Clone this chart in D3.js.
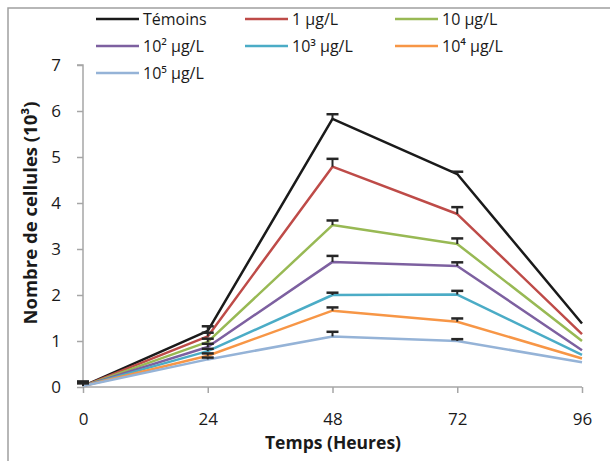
<!DOCTYPE html>
<html>
<head>
<meta charset="utf-8">
<style>
  body { margin: 0; background: #fff; }
  text { font-family: "Open Sans", "Liberation Sans", sans-serif; fill: #1a1a1a; }
</style>
</head>
<body>
<svg id="chart" width="610" height="461"></svg>
<script src="https://cdnjs.cloudflare.com/ajax/libs/d3/7.8.5/d3.min.js"></script>
<script>
// hours
var times = [0, 24, 48, 72, 96];
var yTicks = [0, 1, 2, 3, 4, 5, 6, 7];

var seriesNames = ["Témoins", "1 µg/L", "10 µg/L", "10² µg/L", "10³ µg/L", "10⁴ µg/L", "10⁵ µg/L"];
var seriesColors = ["#1a1a1a", "#be4b48", "#98b954", "#7d60a0", "#4bacc6", "#f79646", "#95b3d7"];

var temoins = [0.02, 1.22, 5.83, 4.63, 1.38];
var c1 = [0.02, 1.10, 4.79, 3.76, 1.15];
var c10 = [0.02, 0.98, 3.52, 3.11, 1.00];
var c100 = [0.02, 0.87, 2.72, 2.63, 0.80];
var c1000 = [0.02, 0.78, 2.00, 2.01, 0.70];
var c10000 = [0.02, 0.68, 1.66, 1.42, 0.62];
var c100000 = [0.02, 0.60, 1.10, 1.00, 0.54];

var errTemoins = [0.10, 0.10, 0.10, 0.05, 0];
var err1 = [0.09, 0.08, 0.17, 0.15, 0];
var err10 = [0.08, 0.07, 0.10, 0.12, 0];
var err100 = [0.08, 0.07, 0.13, 0.08, 0];
var err1000 = [0.07, 0.05, 0.05, 0.08, 0];
var err10000 = [0.07, 0.05, 0.07, 0.07, 0];
var err100000 = [0.06, 0.04, 0.10, 0.04, 0];

var values = [temoins, c1, c10, c100, c1000, c10000, c100000];
var errors = [errTemoins, err1, err10, err100, err1000, err10000, err100000];

var svg = d3.select("#chart");
var x = d3.scaleLinear().domain([0, 96]).range([83, 582]);
var y = d3.scaleLinear().domain([0, 7]).range([387, 65]);
var axisColor = "#a6a6a6";

// outer frame (right/bottom run off the picture)
svg.append("path")
  .attr("d", "M8,470V8H620")
  .attr("fill", "none")
  .attr("stroke", "#a0a0a0")
  .attr("stroke-width", 1.5);

// y axis
var yAxis = svg.append("g")
  .attr("transform", "translate(" + x(0) + ",0)")
  .call(d3.axisLeft(y).tickValues(yTicks).tickSize(6).tickPadding(16).tickFormat(d3.format("d")));
yAxis.select(".domain").attr("stroke", axisColor).attr("stroke-width", 1.5).attr("d", "M-6," + y(7) + "H0V" + y(0));
yAxis.selectAll(".tick line").attr("stroke", axisColor).attr("stroke-width", 1.5);
yAxis.selectAll(".tick text").style("font-size", "17px").attr("fill", "#1a1a1a");

// x axis
var xAxis = svg.append("g")
  .attr("transform", "translate(0," + y(0) + ")")
  .call(d3.axisBottom(x).tickValues(times).tickSize(6).tickPadding(20).tickFormat(d3.format("d")));
xAxis.select(".domain").attr("stroke", axisColor).attr("stroke-width", 1.5).attr("d", "M" + x(0) + ",0H" + x(96));
xAxis.selectAll(".tick line").attr("stroke", axisColor).attr("stroke-width", 1.5);
xAxis.selectAll(".tick text").style("font-size", "17px").attr("fill", "#1a1a1a");

// axis titles
svg.append("text")
  .attr("x", 333).attr("y", 449)
  .attr("text-anchor", "middle")
  .style("font-size", "17.5px").style("font-weight", "bold")
  .text("Temps (Heures)");

svg.append("text")
  .attr("transform", "translate(37,213) rotate(-90)")
  .attr("text-anchor", "middle")
  .style("font-size", "18.5px").style("font-weight", "bold")
  .text("Nombre de cellules (10³)");

// lines
var line = d3.line().x(function(d, i) { return x(times[i]); }).y(function(d) { return y(d); });
values.forEach(function(v, s) {
  svg.append("path")
    .datum(v)
    .attr("d", line)
    .attr("fill", "none")
    .attr("stroke", seriesColors[s])
    .attr("stroke-width", 2.5)
    .attr("stroke-linejoin", "round");
});

// error bars (plus only)
values.forEach(function(v, s) {
  v.forEach(function(val, i) {
    var e = errors[s][i];
    if (!e) return;
    var cx = x(times[i]);
    svg.append("line")
      .attr("x1", cx).attr("x2", cx)
      .attr("y1", y(val)).attr("y2", y(val + e))
      .attr("stroke", "#262626").attr("stroke-width", 2);
    svg.append("line")
      .attr("x1", cx - 6).attr("x2", cx + 6)
      .attr("y1", y(val + e)).attr("y2", y(val + e))
      .attr("stroke", "#262626").attr("stroke-width", 2.5);
  });
});

// legend
var legendCols = [96, 245, 395];
var legendRows = [19, 46, 73];
seriesNames.forEach(function(name, i) {
  var lx = legendCols[i % 3], ly = legendRows[Math.floor(i / 3)];
  svg.append("line")
    .attr("x1", lx).attr("x2", lx + 43)
    .attr("y1", ly).attr("y2", ly)
    .attr("stroke", seriesColors[i]).attr("stroke-width", 2.5);
  svg.append("text")
    .attr("x", lx + 47).attr("y", ly + 6)
    .style("font-size", "16px")
    .text(name);
});
</script>
</body>
</html>
